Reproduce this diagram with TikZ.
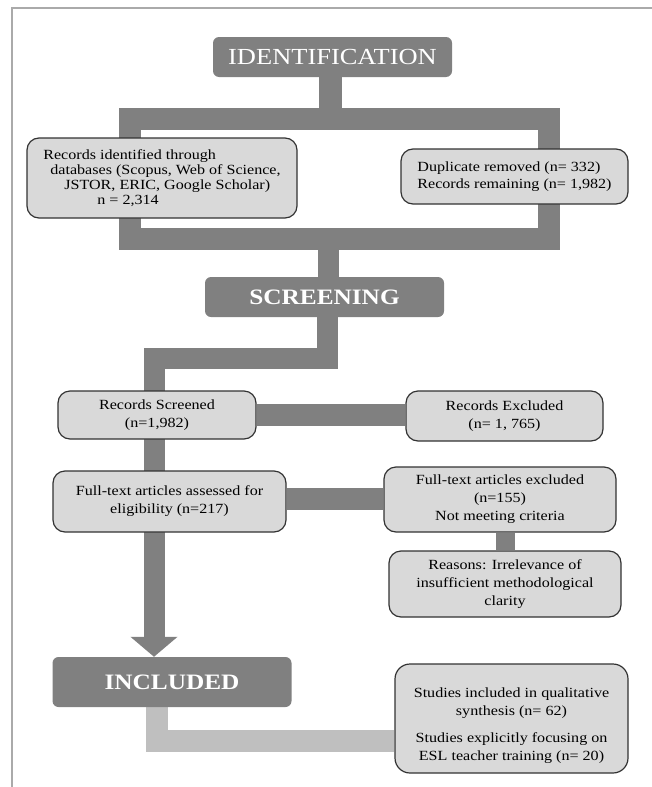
\documentclass[tikz,border=0pt]{standalone}
\usepackage{fontspec}
\setmainfont{Liberation Serif}[FakeStretch=1.15]
\usetikzlibrary{arrows.meta, backgrounds}
\definecolor{barGray}{HTML}{808080}
\definecolor{boxGray}{HTML}{D9D9D9}
\definecolor{lightBar}{HTML}{BFBFBF}
\definecolor{frameGray}{HTML}{AAAAAA}

\begin{document}
\begin{tikzpicture}[x=1pt, y=-1pt]
    \tikzstyle{head}=[rectangle, rounded corners=6pt, fill=barGray, text=white, inner sep=0pt, minimum width=239pt, minimum height=40pt, font=\fontsize{23}{27}\selectfont]
    \tikzstyle{info}=[rectangle, rounded corners=12pt, draw=black!80, line width=1.2pt, fill=boxGray, inner sep=0pt, align=center, font=\fontsize{14}{18}\selectfont]
    \tikzstyle{bar}=[barGray, line width=22pt, line join=miter]
    \useasboundingbox (0,0) rectangle (652,787);
    \draw[frameGray, line width=2pt] (12,787) -- (12,7.5) -- (652,7.5);
    \draw (332.5,57) node[head] (ident) {IDENTIFICATION};
    \draw (162,178) node[info, minimum width=270pt, minimum height=80pt, align=left, font=\fontsize{14}{15}\selectfont] (recid) {Records identified through\\\hspace*{7pt}databases (Scopus, Web of Science,\\\hspace*{21pt}JSTOR, ERIC, Google Scholar)\\\hspace*{54pt}n = 2,314};
    \draw (514.5,176.5) node[info, minimum width=227pt, minimum height=55pt, align=left, font=\fontsize{14}{17}\selectfont] (dup) {Duplicate removed (n= 332)\\Records remaining (n= 1,982)};
    \draw (324.5,297) node[head, font=\fontsize{22}{26}\selectfont\bfseries] (screening) {SCREENING};
    \draw (157,415) node[info, minimum width=198pt, minimum height=48pt] (screened) {Records Screened\\(n=1,982)};
    \draw (504.5,416) node[info, minimum width=197pt, minimum height=50pt] (excl) {Records Excluded\\(n= 1, 765)};
    \draw (169.5,501.5) node[info, minimum width=233pt, minimum height=61pt] (assessed) {Full-text articles assessed for\\eligibility (n=217)};
    \draw (500,499.5) node[info, minimum width=232pt, minimum height=65pt] (ftexcl) {Full-text articles excluded\\(n=155)\\Not meeting criteria};
    \draw (505,584) node[info, minimum width=232pt, minimum height=66pt] (reasons) {Reasons: Irrelevance of\\insufficient methodological\\clarity};
    \draw (172,682) node[head, minimum height=50pt, font=\fontsize{22}{26}\selectfont\bfseries] (included) {INCLUDED};
    \draw (511.5,718.5) node[info, minimum width=233pt, minimum height=109pt, rounded corners=15pt] (studies) {\rule{0pt}{24pt}Studies included in qualitative\\synthesis (n= 62)\\[9pt]Studies explicitly focusing on\\ESL teacher training (n= 20)};
    \coordinate (topL) at (129.5,119);
    \coordinate (topR) at (548.5,119);
    \coordinate (botR) at (548.5,239);
    \coordinate (botL) at (129.5,239);
    \coordinate (lane) at (154,358.5);
    \coordinate (bend) at (157,741);
    \begin{scope}[on background layer]
        \draw[bar] (topL) -- (topR) -- (botR) -- (botL) -- cycle;
        \draw[bar, line width=23pt] ([xshift=-2.5pt]ident.south) -- ([xshift=-2.5pt]ident.south |- topL);
        \draw[bar, line width=21pt] ([xshift=4pt]screening.north |- botL) -- ([xshift=4pt]screening.north);
        \draw[bar, line width=21pt, -{Triangle[width=46pt, length=20pt]}] ([xshift=2.5pt]screening.south) |- (lane) -- (lane |- included.north);
        \draw[bar] (screened.east) -- (screened.east -| excl.west);
        \draw[bar] ([yshift=3pt]assessed.east) -- ([yshift=3pt]assessed.east -| ftexcl.west);
        \draw[bar, line width=19pt] (reasons.north |- ftexcl.south) -- (reasons.north);
        \draw[bar, lightBar] (included.south -| bend) -- (bend) -- (bend -| studies.west);
    \end{scope}
\end{tikzpicture}
\end{document}
